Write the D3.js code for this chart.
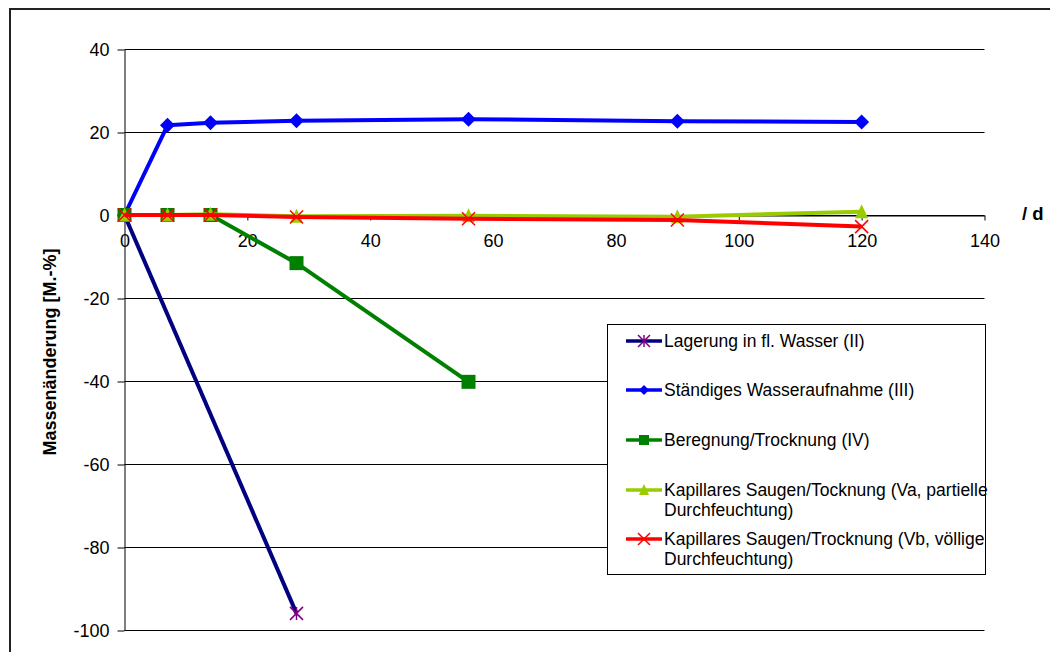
<!DOCTYPE html>
<html>
<head>
<meta charset="utf-8">
<script src="https://cdn.jsdelivr.net/npm/d3@7/dist/d3.min.js"></script>
<style>
  html, body { margin: 0; padding: 0; background: #fff; }
  svg { display: block; font-family: "Liberation Sans", Arial, sans-serif; }
</style>
</head>
<body>
<svg id="chart" width="1050" height="652"></svg>
<script>
// ---- data ----
const xTicks = [0, 20, 40, 60, 80, 100, 120, 140];
const yTicks = [40, 20, 0, -20, -40, -60, -80, -100];

const daysII = [0, 28];
const valuesII = [0, -96];

const daysIII = [0, 7, 14, 28, 56, 90, 120];
const valuesIII = [0, 21.6, 22.2, 22.7, 23.1, 22.6, 22.4];

const daysIV = [0, 7, 14, 28, 56];
const valuesIV = [0, 0, 0, -11.6, -40.2];

const daysVa = [0, 7, 14, 28, 56, 90, 120];
const valuesVa = [0, 0, 0.2, -0.3, -0.2, -0.4, 0.8];

const daysVb = [0, 7, 14, 28, 56, 90, 120];
const valuesVb = [0, 0, 0, -0.5, -0.9, -1.2, -2.8];

const seriesNames = [
  ["Lagerung in fl. Wasser (II)"],
  ["Ständiges Wasseraufnahme (III)"],
  ["Beregnung/Trocknung (IV)"],
  ["Kapillares Saugen/Tocknung (Va, partielle", "Durchfeuchtung)"],
  ["Kapillares Saugen/Trocknung (Vb, völlige", "Durchfeuchtung)"]
];
const yTitle = "Massenänderung [M.-%]";
const xUnit = "/ d";

// ---- setup ----
const svg = d3.select("#chart");
const x = d3.scaleLinear().domain([0, 140]).range([124.5, 984.5]);
const y = d3.scaleLinear().domain([-100, 40]).range([630, 49]);
const fmt = d => String(d);

// outer frame (cropped at right/bottom)
svg.append("rect").attr("x", 10).attr("y", 9).attr("width", 1070).attr("height", 680)
  .attr("fill", "none").attr("stroke", "#222").attr("stroke-width", 2);

// gridlines
svg.append("g").selectAll("line").data(yTicks).join("line")
  .attr("x1", x(0)).attr("x2", x(140))
  .attr("y1", d => Math.round(y(d)) + 0.5).attr("y2", d => Math.round(y(d)) + 0.5)
  .attr("stroke", "#000").attr("stroke-width", 1);

// y axis
const yAxis = d3.axisLeft(y).tickValues(yTicks).tickFormat(fmt).tickSize(7).tickPadding(8).tickSizeOuter(0);
const gy = svg.append("g").attr("transform", `translate(${x(0)},0.5)`).call(yAxis);
gy.select(".domain").attr("stroke", "#000");
gy.selectAll(".tick line").attr("stroke", "#000");
gy.selectAll("text").attr("font-size", 18).attr("fill", "#000")
  .attr("font-family", "'Liberation Sans', Arial, sans-serif");

// x axis at y=0
const xAxis = d3.axisBottom(x).tickValues(xTicks).tickFormat(fmt).tickSize(5).tickPadding(14).tickSizeOuter(0);
const gx = svg.append("g").attr("transform", `translate(0,${Math.round(y(0)) + 0.5})`).call(xAxis);
gx.select(".domain").attr("stroke", "#000");
gx.selectAll(".tick line").attr("stroke", "#000");
gx.selectAll("text").attr("font-size", 18).attr("fill", "#000")
  .attr("font-family", "'Liberation Sans', Arial, sans-serif");

// axis titles
svg.append("text").attr("x", 1022).attr("y", 220).attr("font-size", 18.5)
  .attr("font-weight", "bold").text(xUnit);
svg.append("text").attr("transform", "translate(56,352) rotate(-90)")
  .attr("text-anchor", "middle").attr("font-size", 18).attr("font-weight", "bold").text(yTitle);

// ---- series ----
const line = d3.line().x(d => x(d[0])).y(d => y(d[1]));
const mk = (days, vals) => days.map((d, i) => [d, vals[i]]);

const series = [
  { data: mk(daysII, valuesII), color: "#000080", marker: "star", mcolor: "#800080" },
  { data: mk(daysIII, valuesIII), color: "#0000FF", marker: "diamond", mcolor: "#0000FF" },
  { data: mk(daysIV, valuesIV), color: "#008000", marker: "square", mcolor: "#008000" },
  { data: mk(daysVa, valuesVa), color: "#99CC00", marker: "triangle", mcolor: "#99CC00" },
  { data: mk(daysVb, valuesVb), color: "#FF0000", marker: "x", mcolor: "#FF0000" }
];

function drawMarker(g, type, color, cx, cy, s) {
  if (type === "diamond") {
    g.append("path").attr("d", `M${cx},${cy - s}L${cx + s},${cy}L${cx},${cy + s}L${cx - s},${cy}Z`).attr("fill", color);
  } else if (type === "square") {
    g.append("rect").attr("x", cx - s).attr("y", cy - s).attr("width", 2 * s).attr("height", 2 * s).attr("fill", color);
  } else if (type === "triangle") {
    g.append("path").attr("d", `M${cx},${cy - s - 1}L${cx + s},${cy + s}L${cx - s},${cy + s}Z`).attr("fill", color);
  } else if (type === "x") {
    g.append("path").attr("d", `M${cx - s},${cy - s}L${cx + s},${cy + s}M${cx - s},${cy + s}L${cx + s},${cy - s}`)
      .attr("stroke", color).attr("stroke-width", 1.5).attr("fill", "none");
  } else if (type === "star") {
    g.append("path").attr("d", `M${cx - s},${cy - s}L${cx + s},${cy + s}M${cx - s},${cy + s}L${cx + s},${cy - s}M${cx},${cy - s}L${cx},${cy + s}`)
      .attr("stroke", color).attr("stroke-width", 1.5).attr("fill", "none");
  }
}

const sizes = { diamond: 7.5, square: 7, triangle: 6.5, x: 6.5, star: 6.5 };

series.forEach(s => {
  const g = svg.append("g");
  g.append("path").datum(s.data).attr("d", line).attr("fill", "none")
    .attr("stroke", s.color).attr("stroke-width", 4).attr("stroke-linejoin", "round");
  s.data.forEach(d => drawMarker(g, s.marker, s.mcolor, x(d[0]), y(d[1]), sizes[s.marker]));
});

// ---- legend ----
const lg = svg.append("g");
lg.append("rect").attr("x", 607.5).attr("y", 324.5).attr("width", 378).attr("height", 250)
  .attr("fill", "#fff").attr("stroke", "#000").attr("stroke-width", 1);
const rowY = [341, 390, 440, 490, 539];
series.forEach((s, i) => {
  const cy = rowY[i];
  lg.append("line").attr("x1", 626).attr("x2", 662).attr("y1", cy).attr("y2", cy)
    .attr("stroke", s.color).attr("stroke-width", 3.5);
  drawMarker(lg, s.marker, s.mcolor, 644, cy, s.marker === "star" || s.marker === "x" ? 6 : 5);
  seriesNames[i].forEach((t, j) => {
    lg.append("text").attr("x", 664).attr("y", cy + 6 + j * 20).attr("font-size", 17.5).attr("fill", "#000").text(t);
  });
});
</script>
</body>
</html>
